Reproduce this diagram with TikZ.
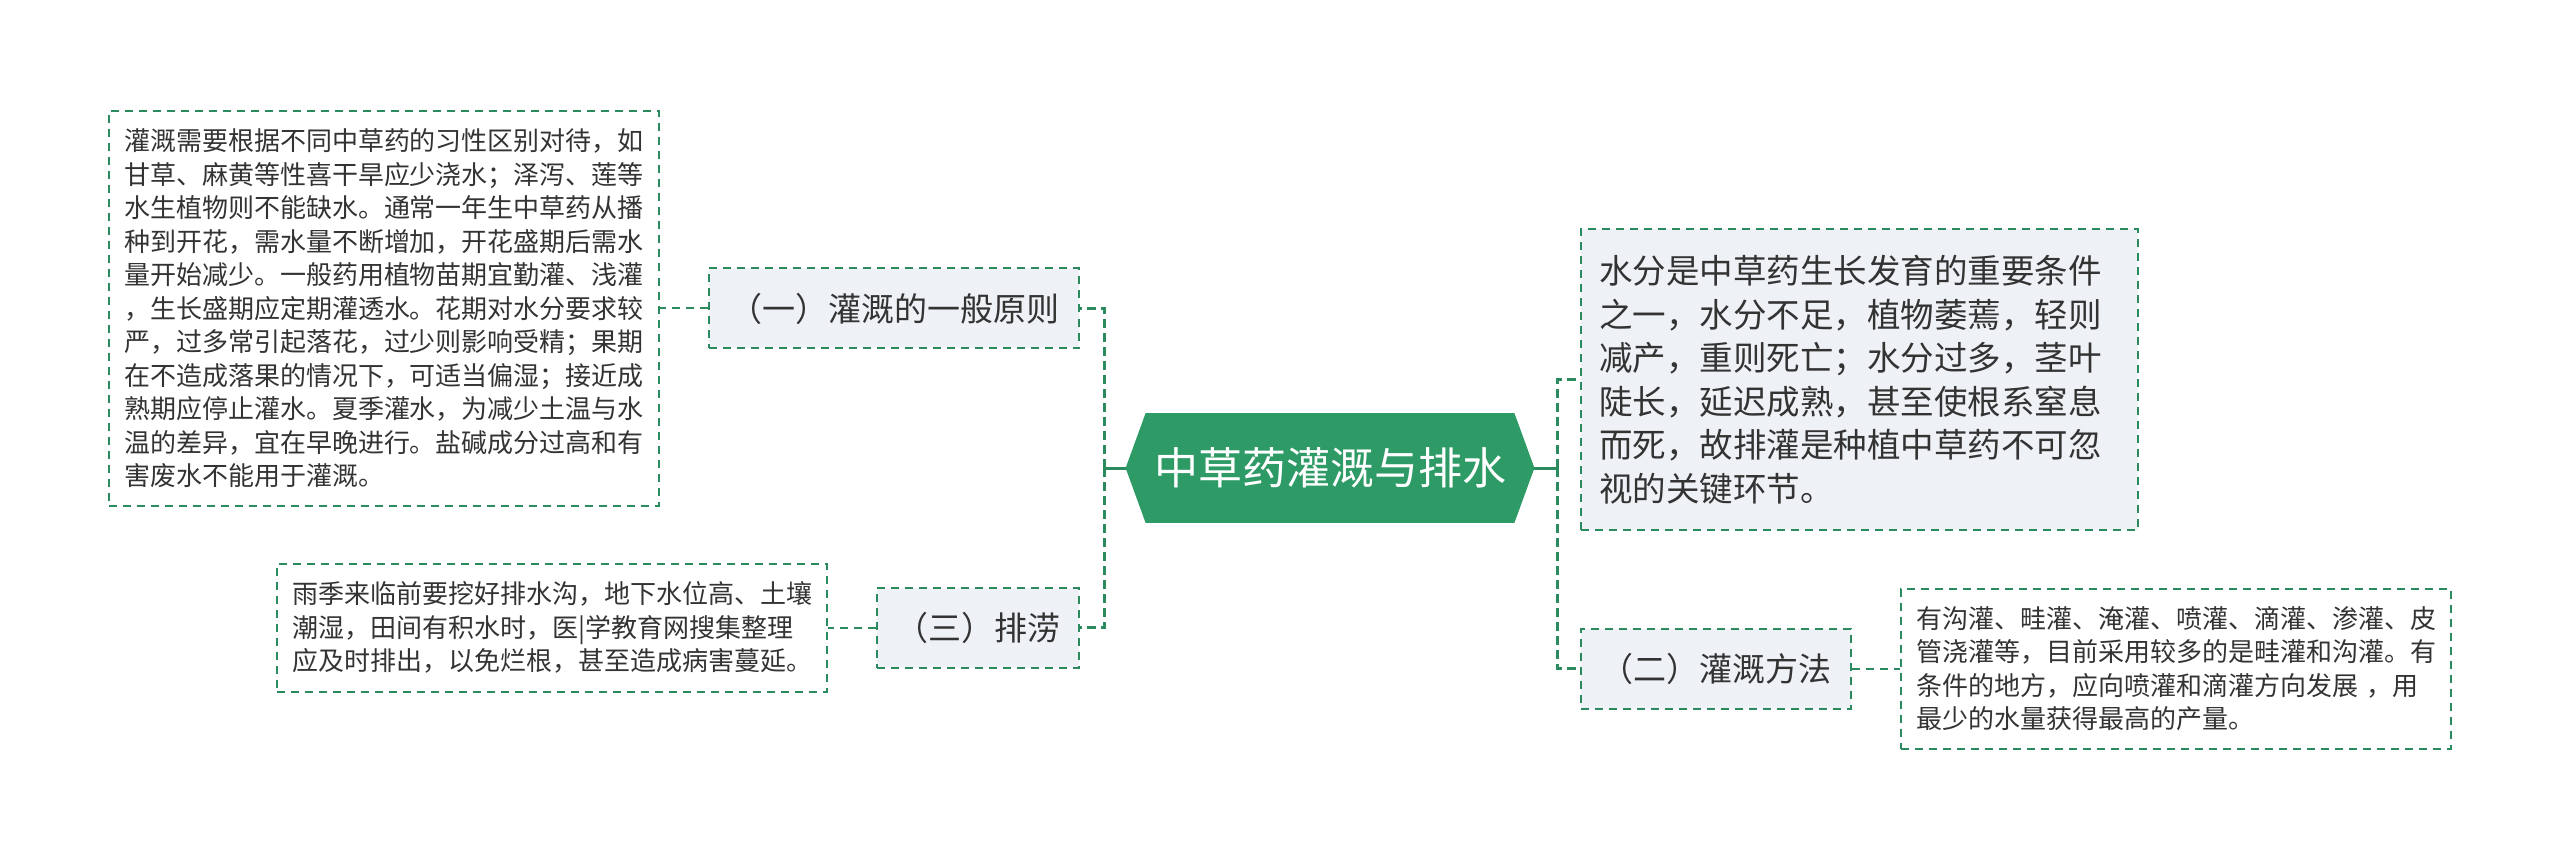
\documentclass[tikz,border=0pt]{standalone}
\usepackage{fontspec}
\setmainfont{Noto Sans CJK SC}
\usepackage{xcolor}
\usetikzlibrary{positioning,backgrounds}

\definecolor{rootgreen}{HTML}{2E9B66}
\definecolor{linegreen}{HTML}{2B8A5E}
\definecolor{topicfill}{HTML}{EEF1F5}
\definecolor{inkgray}{HTML}{333333}

\begin{document}
\begin{tikzpicture}[
    x=1pt, y=1pt,
    node distance=24pt,
    root/.style={minimum width=184pt, minimum height=54.5pt, inner sep=0pt,
                 text=white, font=\fontsize{22}{26}\selectfont},
    topic/.style={draw=linegreen, line width=1pt, dash pattern=on 4pt off 3pt,
                  fill=topicfill, text=inkgray, minimum height=40pt, inner sep=0pt,
                  font=\fontsize{16.5}{20}\selectfont},
    summary/.style={draw=linegreen, line width=1pt, dash pattern=on 4pt off 3pt,
                  fill=topicfill, text=inkgray, align=left, text width=260.5pt,
                  inner xsep=9pt, inner ysep=0pt, minimum height=150.5pt,
                  font=\fontsize{16.75}{21.75}\selectfont},
    detail/.style={draw=linegreen, line width=1pt, dash pattern=on 4pt off 3pt,
                  text=inkgray, align=left, text width=260pt,
                  inner xsep=7.5pt, inner ysep=0pt,
                  font=\fontsize{13}{16.75}\selectfont},
    stem/.style={linegreen, line width=1.5pt},
    trunk/.style={linegreen, line width=1.5pt, dash pattern=on 4.5pt off 2.5pt},
    twig/.style={linegreen, line width=1pt, dash pattern=on 4pt off 3pt}
]
\useasboundingbox (0,0) rectangle (1280,-430.5);

% centre
\node[root] (root) at (665,-234) {中草药灌溉与排水};
\begin{scope}[on background layer]
\fill[rootgreen] (root.north west) -- (root.north east) -- ([xshift=10pt]root.east)
    -- (root.south east) -- (root.south west) -- ([xshift=-10pt]root.west) -- cycle;
\end{scope}
\coordinate (rootL) at ([xshift=-10pt]root.west);
\coordinate (rootR) at ([xshift=10pt]root.east);
\coordinate (jl) at (552,-234);
\coordinate (jr) at (778.5,-234);

% left side
\node[topic, minimum width=185pt, anchor=east] (b1) at (540,-154.25) {（一）灌溉的一般原则};
\node[topic, minimum width=101pt, anchor=east] (b3) at (540,-313.75) {（三）排涝};
\node[detail, minimum height=197pt, left=of b1] (dA) {灌溉需要根据不同中草药的习性区别对待，如\\
甘草、麻黄等性喜干旱应少浇水；泽泻、莲等\\
水生植物则不能缺水。通常一年生中草药从播\\
种到开花，需水量不断增加，开花盛期后需水\\
量开始减少。一般药用植物苗期宜勤灌、浅灌\\
，生长盛期应定期灌透水。花期对水分要求较\\
严，过多常引起落花，过少则影响受精；果期\\
在不造成落果的情况下，可适当偏湿；接近成\\
熟期应停止灌水。夏季灌水，为减少土温与水\\
温的差异，宜在早晚进行。盐碱成分过高和有\\
害废水不能用于灌溉。};
\node[detail, minimum height=64pt, left=of b3] (dC) {雨季来临前要挖好排水沟，地下水位高、土壤\\
潮湿，田间有积水时，医|学教育网搜集整理\\
应及时排出，以免烂根，甚至造成病害蔓延。};

% right side
\node[summary, anchor=west] (sum) at (790,-189.75) {水分是中草药生长发育的重要条件\\
之一，水分不足，植物萎蔫，轻则\\
减产，重则死亡；水分过多，茎叶\\
陡长，延迟成熟，甚至使根系窒息\\
而死，故排灌是种植中草药不可忽\\
视的关键环节。};
\node[topic, minimum width=135pt, anchor=west] (b2) at (790,-334.25) {（二）灌溉方法};
\node[detail, minimum height=80pt, right=of b2] (dE) {有沟灌、畦灌、淹灌、喷灌、滴灌、渗灌、皮\\
管浇灌等，目前采用较多的是畦灌和沟灌。有\\
条件的地方，应向喷灌和滴灌方向发展 ，用\\
最少的水量获得最高的产量。};

\draw[stem]  (rootL) -- (jl);
\draw[trunk] (jl) |- (b1.east);
\draw[trunk] (jl) |- (b3.east);
\draw[stem]  (rootR) -- (jr);
\draw[trunk] (jr) |- (sum.west);
\draw[trunk] (jr) |- (b2.west);
\draw[twig]  (b1.west) -- (dA.east);
\draw[twig]  (b3.west) -- (dC.east);
\draw[twig]  (b2.east) -- (dE.west);
\end{tikzpicture}
\end{document}
